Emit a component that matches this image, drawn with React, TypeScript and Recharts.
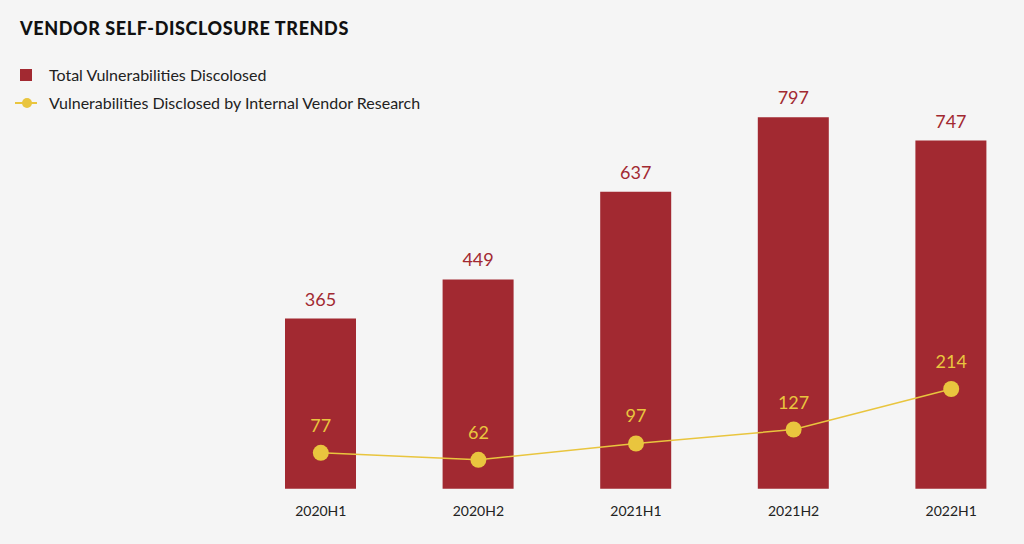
import React from "react";
import { Bar, ComposedChart, LabelList, Line, XAxis, YAxis } from "recharts";

const periods = ["2020H1", "2020H2", "2021H1", "2021H2", "2022H1"];
const totalDisclosed = [365, 449, 637, 797, 747];
const internalResearch = [77, 62, 97, 127, 214];

const RED = "#a22931";
const YELLOW = "#e9c53e";
const FONT = "Lato, 'Noto Sans', sans-serif";

const data = periods.map((period, i) => ({
  period,
  total: totalDisclosed[i],
  internal: internalResearch[i],
}));

export default function App() {
  return (
    <div
      style={{
        position: "fixed",
        top: 0,
        left: 0,
        width: 1024,
        height: 544,
        overflow: "hidden",
        background: "#f5f5f5",
        fontFamily: FONT,
      }}
    >
      <div
        style={{
          position: "absolute",
          left: 20,
          top: 17,
          fontSize: 18,
          fontWeight: 900,
          color: "#111",
          letterSpacing: 0.6,
        }}
      >
        VENDOR SELF-DISCLOSURE TRENDS
      </div>

      {/* legend */}
      <div style={{ position: "absolute", left: 20, top: 69, width: 12, height: 12, background: RED }} />
      <div style={{ position: "absolute", left: 49, top: 65, fontSize: 16, color: "#222" }}>
        Total Vulnerabilities Discolosed
      </div>
      <div style={{ position: "absolute", left: 15, top: 102, width: 22, height: 2, background: YELLOW }} />
      <div
        style={{
          position: "absolute",
          left: 22,
          top: 98,
          width: 10,
          height: 10,
          borderRadius: 5,
          background: YELLOW,
        }}
      />
      <div style={{ position: "absolute", left: 49, top: 93, fontSize: 16, color: "#222" }}>
        Vulnerabilities Disclosed by Internal Vendor Research
      </div>

      <div style={{ position: "absolute", left: 0, top: 0 }}>
        <ComposedChart
          width={1030}
          height={544}
          data={data}
          margin={{ top: 22.7, right: 0, bottom: 25.3, left: 242 }}
        >
          <XAxis
            dataKey="period"
            height={30}
            axisLine={false}
            tickLine={false}
            tickSize={0}
            tickMargin={17}
            tick={{ fill: "#222", fontSize: 14, fontFamily: FONT }}
          />
          <YAxis hide domain={[0, 1000]} />
          <Bar dataKey="total" fill={RED} barSize={71} isAnimationActive={false}>
            <LabelList
              dataKey="total"
              position="top"
              offset={13}
              fill={RED}
              fontSize={18}
              fontFamily={FONT}
            />
          </Bar>
          <Line
            dataKey="internal"
            stroke={YELLOW}
            strokeWidth={1.5}
            dot={{ r: 8, fill: YELLOW, stroke: "none" }}
            activeDot={false}
            isAnimationActive={false}
          >
            <LabelList
              dataKey="internal"
              position="top"
              offset={21}
              fill={YELLOW}
              fontSize={18}
              fontFamily={FONT}
            />
          </Line>
        </ComposedChart>
      </div>
    </div>
  );
}
